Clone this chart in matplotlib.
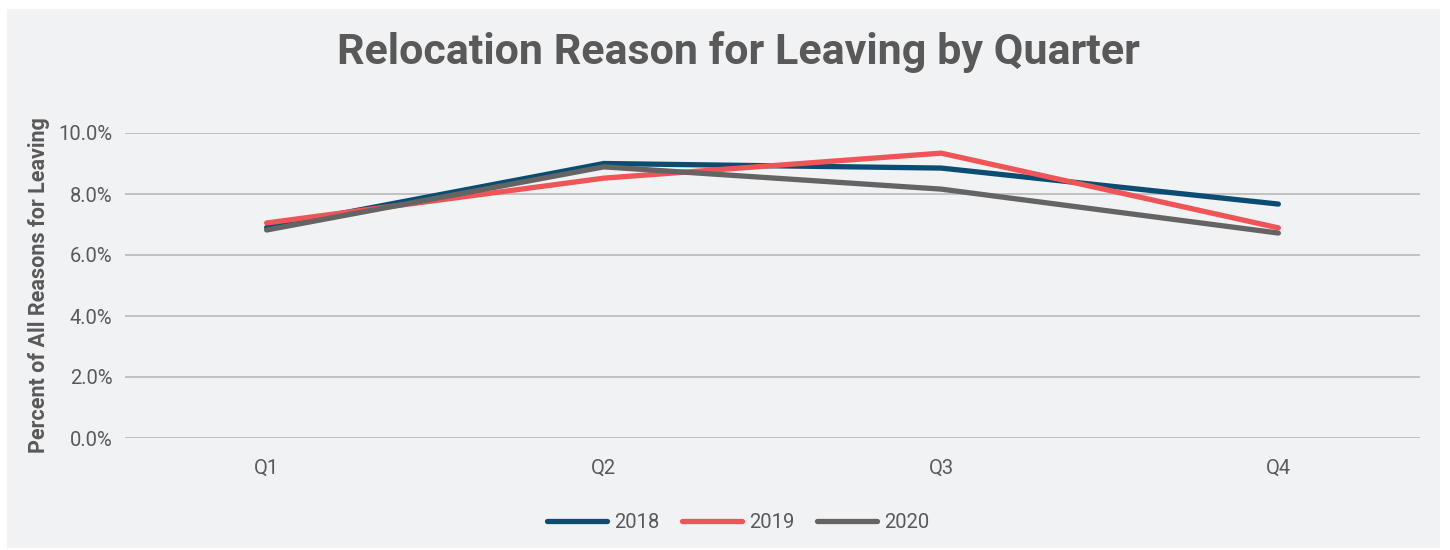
import matplotlib.pyplot as plt
from matplotlib.patches import Rectangle
from matplotlib.ticker import FuncFormatter

quarters = ["Q1", "Q2", "Q3", "Q4"]
years = ["2018", "2019", "2020"]
share_2018 = [6.90, 9.00, 8.85, 7.67]
share_2019 = [7.05, 8.52, 9.34, 6.89]
share_2020 = [6.82, 8.89, 8.16, 6.72]

colors = ["#0b4c72", "#ef5457", "#646464"]
bg = "#f1f2f4"
text_grey = "#595959"

plt.rcParams["font.family"] = ["Roboto", "DejaVu Sans"]

W, H = 1450, 550
fig = plt.figure(figsize=(W / 100, H / 100), dpi=100, facecolor="white")
fig.patches.append(Rectangle((7 / W, 2 / H), (1440 - 7) / W, (548 - 9) / H,
                             transform=fig.transFigure, facecolor=bg,
                             edgecolor="none", zorder=-1))

ax = fig.add_axes([125 / W, (H - 438) / H, (1420 - 125) / W, (438 - 133) / H])
ax.set_facecolor(bg)

x = range(len(quarters))
for vals, year, c in zip([share_2018, share_2019, share_2020], years, colors):
    ax.plot(x, vals, color=c, lw=3.8, solid_capstyle="round",
            solid_joinstyle="round", label=year, clip_on=False, zorder=3)

ax.set_xlim(-0.42, 3.42)
ax.set_ylim(0, 10)
ax.set_yticks([0, 2, 4, 6, 8, 10])
ax.yaxis.set_major_formatter(FuncFormatter(lambda v, p: f"{v:.1f}%"))
ax.set_xticks(list(x))
ax.set_xticklabels(quarters)
ax.grid(axis="y", color="#bdbdbd", lw=1.3)
ax.set_axisbelow(True)
for s in ax.spines.values():
    s.set_visible(False)
ax.tick_params(axis="both", length=0, labelsize=14.5, labelcolor=text_grey)
ax.tick_params(axis="y", pad=9)
ax.tick_params(axis="x", pad=15)

ax.set_ylabel("Percent of All Reasons for Leaving", fontsize=15.5,
              fontweight="bold", color=text_grey, labelpad=6)

fig.text(738 / W, 1 - 52 / H, "Relocation Reason for Leaving by Quarter",
         ha="center", va="center", fontsize=31, fontweight="bold",
         color=text_grey)

leg = fig.legend(loc="center", bbox_to_anchor=(738 / W, 1 - 523 / H), ncol=3,
                 frameon=False, fontsize=14.5, handlelength=3.0,
                 columnspacing=1.1, handletextpad=0.35)
for t in leg.get_texts():
    t.set_color(text_grey)

fig.savefig("out.png", dpi=100, facecolor="white")
